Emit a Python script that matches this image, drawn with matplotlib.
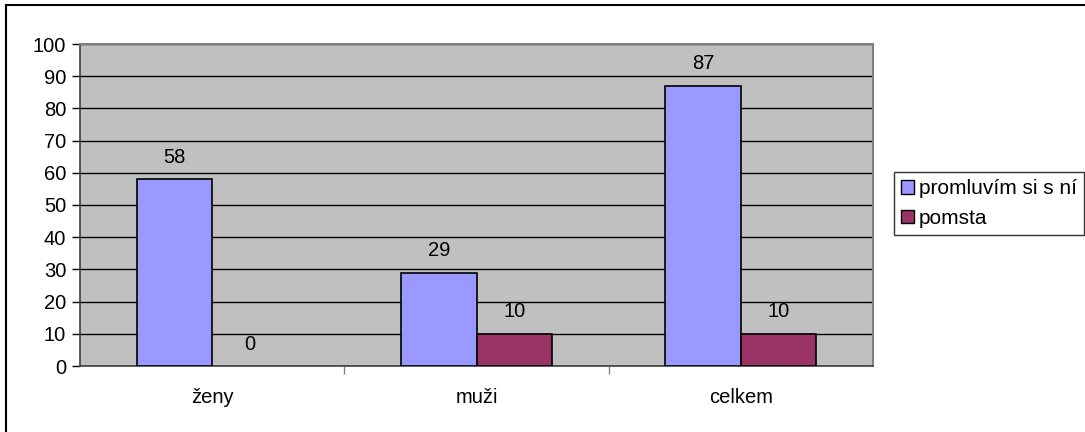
import numpy as np
import matplotlib
matplotlib.use('Agg')
from matplotlib import pyplot as plt
from matplotlib.lines import Line2D

plt.rcParams['font.family'] = ['Liberation Sans', 'DejaVu Sans']

# Data
categories = ['ženy', 'muži', 'celkem']
promluvim = [58, 29, 87]
pomsta = [0, 10, 10]
series_names = ['promluvím si s ní', 'pomsta']
y_ticks = [0, 10, 20, 30, 40, 50, 60, 70, 80, 90, 100]

fs = 14.5

fig = plt.figure(figsize=(10.85, 4.32), dpi=100)
ax = fig.add_axes([80 / 1085, 1 - 366 / 432, (873 - 80) / 1085, (366 - 44) / 432])

x = np.arange(len(categories))
w = 1 / 3.5
b1 = ax.bar(x - w / 2, promluvim, w, color='#9999FF', edgecolor='black', linewidth=1.2, zorder=3)
b2 = ax.bar(x + w / 2, pomsta, w, color='#993366', edgecolor='black',
            linewidth=[1.2 if v > 0 else 0 for v in pomsta], zorder=3)

for bars, vals in [(b1, promluvim), (b2, pomsta)]:
    for r, v in zip(bars, vals):
        ax.annotate(str(v), (r.get_x() + r.get_width() / 2, v), xytext=(0, 9),
                    textcoords='offset points', ha='center', va='bottom', fontsize=fs)

ax.set_facecolor('#C0C0C0')
ax.set_xlim(-0.5, 2.5)
ax.set_ylim(0, 100)
ax.set_yticks(y_ticks)
ax.tick_params(axis='y', labelsize=fs, length=6, width=1, pad=4, color='black')
ax.yaxis.grid(True, color='black', linewidth=1, zorder=1)
ax.set_axisbelow(True)

ax.set_xticks(x)
ax.set_xticklabels(categories, fontsize=fs)
ax.tick_params(axis='x', length=0, pad=16)
ax.set_xticks([0.5, 1.5], minor=True)
ax.tick_params(axis='x', which='minor', length=6, width=1, color='#808080')

for s in ['top', 'right']:
    ax.spines[s].set_color('#808080')
    ax.spines[s].set_linewidth(1.5)
ax.spines['left'].set_color('#404040')
ax.spines['bottom'].set_color('#404040')
ax.spines['left'].set_linewidth(1.2)
ax.spines['bottom'].set_linewidth(1.2)

# legend
handles = [plt.Rectangle((0, 0), 1, 1, facecolor='#9999FF', edgecolor='black'),
           plt.Rectangle((0, 0), 1, 1, facecolor='#993366', edgecolor='black')]
leg = fig.legend(handles, series_names, loc='upper left',
                 bbox_to_anchor=(894 / 1085, 1 - 172 / 432), fontsize=15,
                 frameon=True, fancybox=False, edgecolor='black',
                 handlelength=0.6, handleheight=0.6, handletextpad=0.25,
                 borderpad=0.35, labelspacing=0.5, borderaxespad=0)
leg.get_frame().set_linewidth(1)

# outer border
fig.add_artist(Line2D([6 / 1085, 6 / 1085], [0, 1 - 5 / 432], color='black', lw=1.5,
                      transform=fig.transFigure))
fig.add_artist(Line2D([6 / 1085, 1], [1 - 5 / 432, 1 - 5 / 432], color='black', lw=1.5,
                      transform=fig.transFigure))

fig.savefig('out.png', dpi=100)
